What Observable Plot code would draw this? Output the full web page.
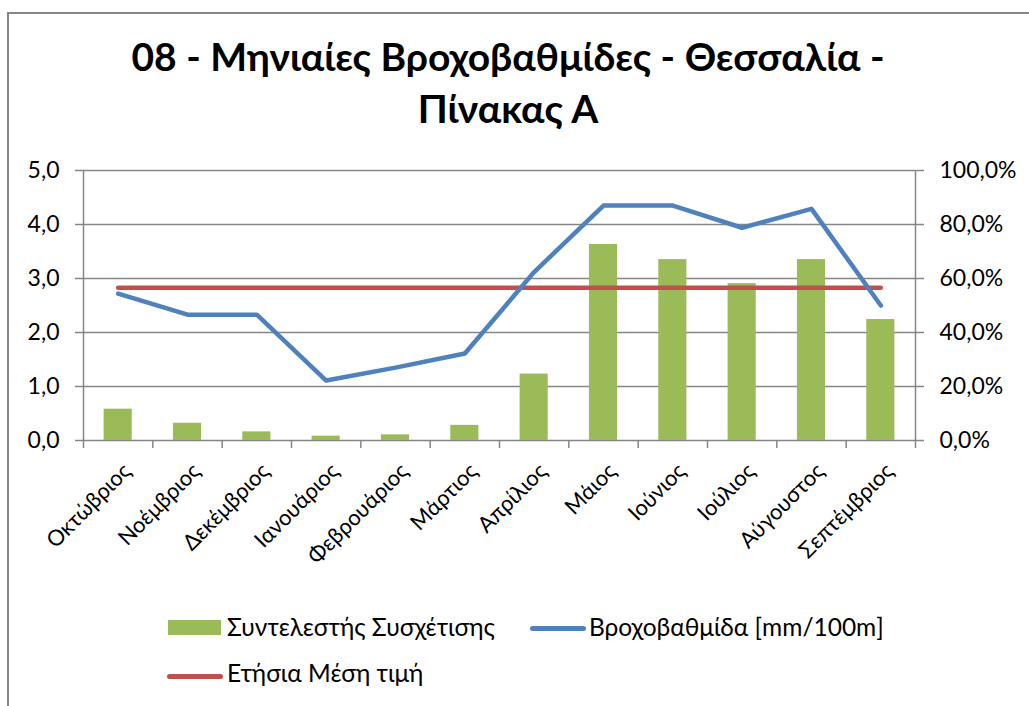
<!DOCTYPE html>
<html>
<head>
<meta charset="utf-8">
<script src="https://cdn.jsdelivr.net/npm/d3@7"></script>
<script src="https://cdn.jsdelivr.net/npm/@observablehq/plot@0.6"></script>
<style>
  html, body { margin: 0; padding: 0; background: #fff; }
  #wrap { position: relative; width: 1029px; height: 706px; overflow: hidden; font-family: Lato, "Open Sans", sans-serif; color: #000; }
  #frame { position: absolute; left: 7px; top: 12px; width: 1100px; height: 800px; border-left: 2px solid #868686; border-top: 2px solid #868686; }
  #chart { position: absolute; left: 0; top: 0; }
  .title { position: absolute; left: 0; width: 1016px; text-align: center; font-weight: bold; font-size: 39px; line-height: 1.2; white-space: nowrap; }
  .leg { position: absolute; font-size: 24.5px; white-space: nowrap; line-height: 1; }
  .sw { position: absolute; }
</style>
</head>
<body>
<div id="wrap">
  <div id="frame"></div>
  <div id="chart"></div>
  <div class="title" style="top:33px">08 - Μηνιαίες Βροχοβαθμίδες - Θεσσαλία -</div>
  <div class="title" style="top:85px">Πίνακας Α</div>
  <div class="sw" style="left:168px; top:620px; width:53px; height:15px; background:#9BBB59"></div>
  <div class="leg" style="left:227px; top:615px">Συντελεστής Συσχέτισης</div>
  <div class="sw" style="left:530px; top:625.5px; width:56px; height:5px; border-radius:2.5px; background:#4F81BD"></div>
  <div class="leg" style="left:589px; top:615px">Βροχοβαθμίδα [mm/100m]</div>
  <div class="sw" style="left:167px; top:673.5px; width:56px; height:5px; border-radius:2.5px; background:#C0504D"></div>
  <div class="leg" style="left:227px; top:661px">Ετήσια Μέση τιμή</div>
</div>
<script>
const months = ["Οκτώβριος","Νοέμβριος","Δεκέμβριος","Ιανουάριος","Φεβρουάριος","Μάρτιος","Απρίλιος","Μάιος","Ιούνιος","Ιούλιος","Αύγουστος","Σεπτέμβριος"];
// Συντελεστής Συσχέτισης (%), right axis
const correlation = [11.6, 6.4, 3.2, 1.6, 2.1, 5.6, 24.6, 72.6, 67.0, 58.1, 67.0, 44.8];
// Βροχοβαθμίδα [mm/100m], left axis
const gradient = [2.72, 2.33, 2.33, 1.11, 1.35, 1.61, 3.12, 4.35, 4.35, 3.94, 4.29, 2.50];
// Ετήσια Μέση τιμή
const annualMean = 2.83;
const leftTicks = [0, 1, 2, 3, 4, 5];
const rightTicks = [0, 20, 40, 60, 80, 100];

const rows = months.map((m, i) => ({i, month: m, corr: correlation[i], grad: gradient[i], mean: annualMean}));
const gray = "#868686";
const fmt = v => v.toFixed(1).replace(".", ",");

const chart = Plot.plot({
  width: 1029,
  height: 706,
  marginLeft: 83,
  marginRight: 114,
  marginTop: 170,
  marginBottom: 266,
  style: {fontFamily: "Lato, 'Open Sans', sans-serif", fontSize: "23px", color: "#000", background: "transparent"},
  x: {type: "linear", domain: [0, 12], axis: null},
  y: {domain: [0, 5], axis: null},
  marks: [
    Plot.ruleY(leftTicks, {x1: 0, x2: 12, stroke: gray, strokeWidth: 1.5}),
    Plot.rectY(rows, {x1: d => d.i, x2: d => d.i + 1, y1: 0, y2: d => d.corr / 20, fill: "#9BBB59", insetLeft: 20.6, insetRight: 20.6}),
    Plot.ruleX([0, 12], {y1: 0, y2: 5, stroke: gray, strokeWidth: 1.5}),
    Plot.axisY({anchor: "left", ticks: leftTicks, tickFormat: fmt, tickSize: 8, stroke: gray, strokeWidth: 1.5, tickPadding: 16, fill: "#000"}),
    Plot.axisY({anchor: "right", ticks: rightTicks.map(t => t / 20), tickFormat: (d, k) => fmt(rightTicks[k]) + "%", tickSize: 8, stroke: gray, strokeWidth: 1.5, tickPadding: 16, fill: "#000"}),
    Plot.axisX({ticks: d3.range(13), tickFormat: () => "", tickSize: 8, stroke: gray, strokeWidth: 1.5}),
    Plot.axisX({ticks: months.map((m, i) => i + 0.5), tickFormat: (d, k) => months[k], tickSize: 0, tickRotate: -45, tickPadding: 27, dx: 9, fill: "#000", fontSize: 22}),
    Plot.line(rows, {x: d => d.i + 0.5, y: "mean", stroke: "#C0504D", strokeWidth: 4.5, strokeLinecap: "round"}),
    Plot.line(rows, {x: d => d.i + 0.5, y: "grad", stroke: "#4F81BD", strokeWidth: 4.5, strokeLinecap: "round", strokeLinejoin: "round"})
  ]
});
document.getElementById("chart").appendChild(chart);
</script>
</body>
</html>
